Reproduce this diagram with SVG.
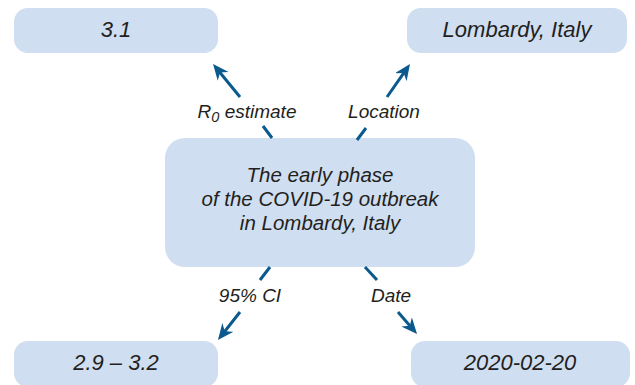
<svg xmlns="http://www.w3.org/2000/svg" width="635" height="385" viewBox="0 0 635 385">
<style>
.box{fill:#cfdef0;}
.t{font-family:"Liberation Sans",Arial,sans-serif;font-style:italic;fill:#231f20;text-anchor:middle;}
.nt{font-size:22px;}
.ct{font-size:20.5px;}
.lt{font-size:19px;}
.conn{fill:none;stroke:#0b5a8e;stroke-width:3;stroke-linecap:butt;}
</style>
<defs>
<marker id="ah" markerUnits="userSpaceOnUse" markerWidth="18" markerHeight="16" refX="8" refY="7" orient="auto">
<path d="M0,0 L16,7 L0,14 L5,7 Z" fill="#0b5a8e"/>
</marker>
</defs>
<g id="n-center">
<rect class="box" x="165" y="138" width="310" height="129" rx="20"/>
<text class="t ct" x="320" y="182">The early phase</text>
<text class="t ct" x="320" y="206">of the COVID-19 outbreak</text>
<text class="t ct" x="320" y="230">in Lombardy, Italy</text>
</g>
<g id="n-r0">
<rect class="box" x="14" y="8" width="204" height="45" rx="14"/>
<text class="t nt" x="116" y="37">3.1</text>
</g>
<g id="n-loc">
<rect class="box" x="407" y="8" width="220" height="45" rx="14"/>
<text class="t nt" x="517" y="37">Lombardy, Italy</text>
</g>
<g id="n-ci">
<rect class="box" x="14" y="341" width="204" height="46" rx="14"/>
<text class="t nt" x="116" y="370">2.9 – 3.2</text>
</g>
<g id="n-date">
<rect class="box" x="411" y="341" width="219" height="46" rx="14"/>
<text class="t nt" x="520" y="370">2020-02-20</text>
</g>
<g id="connectors">
<path class="conn" d="M272,138 L263,126 M240,97 L218.1,70.2" marker-end="url(#ah)"/>
<path class="conn" d="M357,140 L366,128 M387,97 L405.4,70.6" marker-end="url(#ah)"/>
<path class="conn" d="M270,267 L260,280 M240,312 L222.9,333.7" marker-end="url(#ah)"/>
<path class="conn" d="M365,267 L377,280 M398,312 L411.8,327.9" marker-end="url(#ah)"/>
<text class="t lt" x="247" y="118">R<tspan font-size="14.5" dy="4">0</tspan><tspan dy="-4"> estimate</tspan></text>
<text class="t lt" x="384" y="118">Location</text>
<text class="t lt" x="250" y="302">95% CI</text>
<text class="t lt" x="391" y="302">Date</text>
</g>
</svg>
